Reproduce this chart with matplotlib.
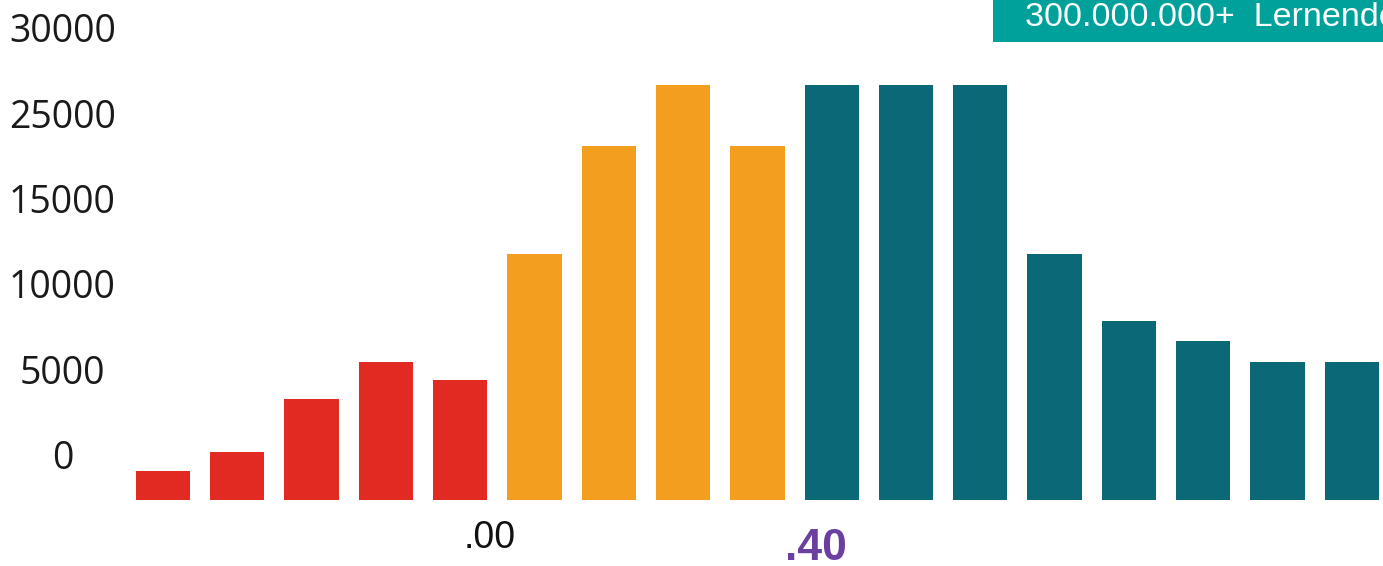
import numpy as np
import matplotlib
matplotlib.use("Agg")
import matplotlib.pyplot as plt
from matplotlib.patches import Rectangle

# Bar heights measured from the common baseline
values = [1700, 2800, 5900, 8100, 7000,
          14400, 20700, 24300, 20700,
          24300, 24300, 24300, 14400, 10500, 9300, 8100, 8100]
groups = ["red"] * 5 + ["orange"] * 4 + ["teal"] * 8
group_colors = {"red": "#E32A22", "orange": "#F39E1F", "teal": "#0B6876"}

# Axis labels (the scale skips 20000, as printed)
tick_labels = ["0", "5000", "10000", "15000", "25000", "30000"]
tick_step = 5000
tick_offset = 2650

marker_labels = [".00", ".40"]
marker_x = [4.39, 8.79]
banner_text = "300.000.000+  Lernende"

W, H, DPI = 1383, 566, 100
fig = plt.figure(figsize=(W / DPI, H / DPI), dpi=DPI)
fig.patch.set_facecolor("white")

left_px = 120
ax = fig.add_axes([left_px / W, 0, 1 - left_px / W, 1])
ax.set_facecolor("none")

x = np.arange(len(values))
colors = [group_colors[g] for g in groups]
ax.bar(x, values, width=0.73, color=colors, zorder=2)

ax.set_xlim(-0.579, 16.42)
ax.set_ylim(-3864, 29275)

ticks = tick_offset + tick_step * np.arange(len(tick_labels))
ax.set_yticks(ticks)
ax.set_yticklabels(tick_labels, fontfamily="Open Sans", fontsize=27, color="#1a1a1a")
ax.tick_params(axis="y", length=0, pad=41.5)
for lab in ax.get_yticklabels():
    lab.set_horizontalalignment("center")
ax.set_xticks([])
for s in ax.spines.values():
    s.set_visible(False)

# Marker labels under the bars
ax.text(marker_x[0], 0.031, marker_labels[0], transform=ax.get_xaxis_transform(),
        ha="center", va="baseline", fontfamily="Liberation Sans", fontsize=27,
        color="#111111")
ax.text(marker_x[1], 0.010, marker_labels[1], transform=ax.get_xaxis_transform(),
        ha="center", va="baseline", fontfamily="Liberation Sans", fontsize=32,
        fontweight="bold", color="#6A3FA0")

# Banner in the top-right corner
fig.patches.append(Rectangle((993 / W, 1 - 42 / H), (W - 993) / W, 42 / H,
                             transform=fig.transFigure, facecolor="#00A19A",
                             edgecolor="none", zorder=5))
fig.text(1025 / W, 1 - 26 / H, banner_text, ha="left", va="baseline",
         fontfamily="Liberation Sans", fontsize=24.5, color="white", zorder=6)

fig.savefig("out.png", dpi=DPI, facecolor="white")
